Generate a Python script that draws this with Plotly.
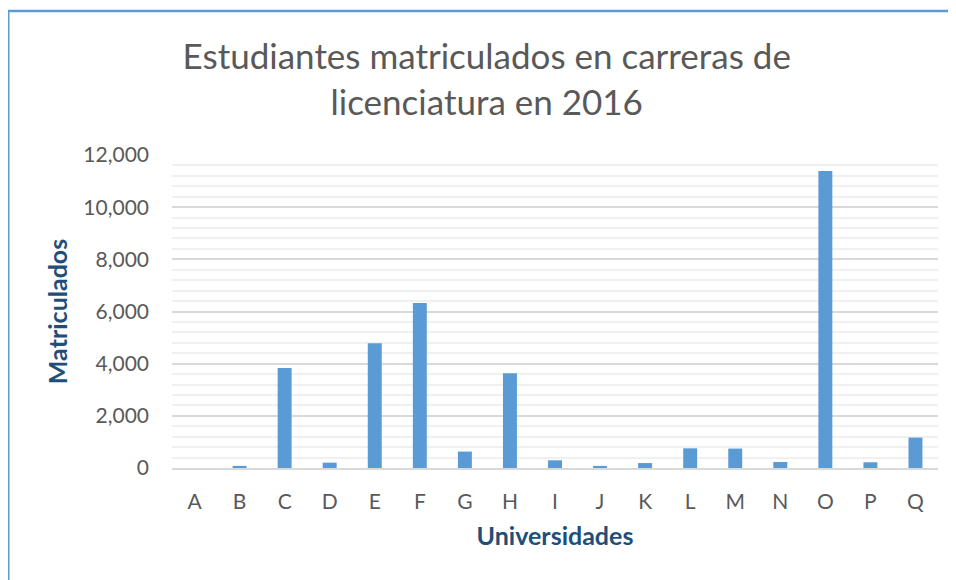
import plotly.graph_objects as go

universidades = ["A", "B", "C", "D", "E", "F", "G", "H", "I", "J", "K", "L", "M", "N", "O", "P", "Q"]
matriculados = [0, 80, 3830, 205, 4780, 6330, 630, 3635, 295, 80, 190, 755, 745, 230, 11390, 220, 1165]

title_text = "Estudiantes matriculados en carreras de<br>licenciatura en 2016"
y_ticks = [0, 2000, 4000, 6000, 8000, 10000, 12000]

# page body has an 8px margin; size the figure so it fits the 956x580 window
W, H = 948, 572
L, T = 164, 147
pw, ph = 766, 313
R, B = W - L - pw, H - T - ph

def px_to_paper_x(px):
    return (px - L) / pw

def px_to_paper_y(py):
    return (H - B - py) / ph

FONT = "Lato"
BLUE = "#5B9BD5"

fig = go.Figure()
fig.add_trace(go.Bar(
    x=universidades, y=matriculados,
    marker=dict(color=BLUE, line=dict(width=0)),
    width=0.31,
))

fig.update_layout(
    width=W, height=H,
    margin=dict(l=L, r=R, t=T, b=B),
    paper_bgcolor="white", plot_bgcolor="white",
    showlegend=False,
    font=dict(family=FONT, color="#595959"),
    title=dict(
        text=title_text, x=0.505, xanchor="center", xref="container",
        y=1 - 61 / H, yanchor="top", yref="container",
        font=dict(family=FONT, size=35, color="#595959"),
    ),
)
fig.update_yaxes(
    range=[0, 12000], tickvals=y_ticks, tickformat=",d",
    showgrid=True, gridcolor="#D9D9D9", gridwidth=1.5,
    minor=dict(dtick=400, showgrid=True, gridcolor="#F0F0F0", gridwidth=1.5),
    zeroline=False, showline=False,
    tickfont=dict(family=FONT, size=21, color="#595959"),
    ticklabelstandoff=22,
    title=dict(text="<b>Matriculados</b>", standoff=8,
               font=dict(family=FONT, size=25, color="#1F4E79")),
)
fig.update_xaxes(
    showgrid=False, showline=True, linecolor="#D9D9D9", linewidth=1.5,
    tickfont=dict(family=FONT, size=21, color="#595959"),
    ticklabelstandoff=14,
    title=dict(text="<b>Universidades</b>", standoff=16,
               font=dict(family=FONT, size=25, color="#1F4E79")),
)

# chart border (partially visible frame)
fig.add_shape(type="line", xref="paper", yref="paper",
              x0=px_to_paper_x(0), y0=px_to_paper_y(3),
              x1=px_to_paper_x(W + 5), y1=px_to_paper_y(3),
              line=dict(color=BLUE, width=2.5))
fig.add_shape(type="line", xref="paper", yref="paper",
              x0=px_to_paper_x(0), y0=px_to_paper_y(3),
              x1=px_to_paper_x(0), y1=px_to_paper_y(H + 5),
              line=dict(color=BLUE, width=3))

fig.write_html("out.html")
